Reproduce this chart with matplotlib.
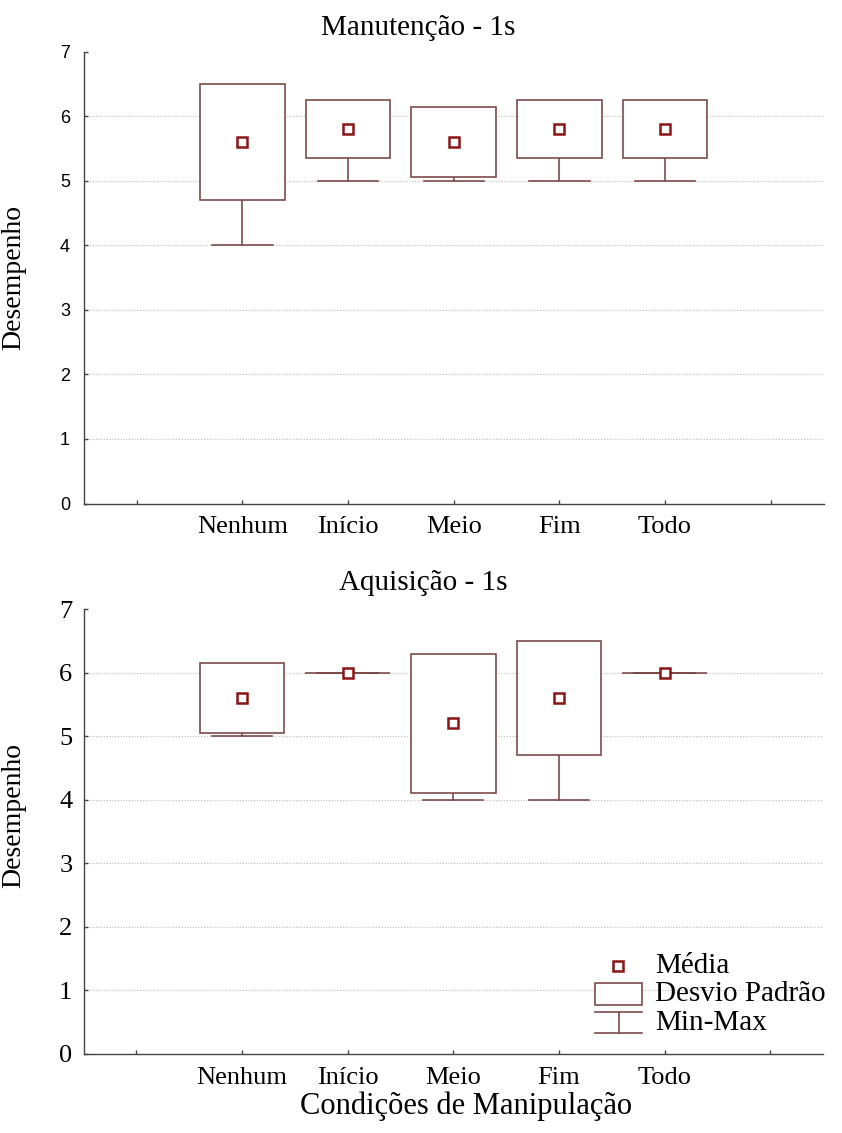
import matplotlib
matplotlib.use("Agg")
import matplotlib.pyplot as plt
from matplotlib.patches import Rectangle
from matplotlib.lines import Line2D

# ---- data ----
categories = ["Nenhum", "Início", "Meio", "Fim", "Todo"]
positions = [2, 3, 4, 5, 6]

man_mean = [5.6, 5.8, 5.6, 5.8, 5.8]
man_sd = [0.894, 0.447, 0.548, 0.447, 0.447]
man_min = [4, 5, 5, 5, 5]
man_max = [6, 6, 6, 6, 6]

aq_mean = [5.6, 6.0, 5.2, 5.6, 6.0]
aq_sd = [0.548, 0.0, 1.095, 0.894, 0.0]
aq_min = [5, 6, 4, 4, 6]
aq_max = [6, 6, 6, 6, 6]

yticks = [0, 1, 2, 3, 4, 5, 6, 7]

BOX_C = "#7d4a4a"
MEAN_C = "#8b1414"
SPINE_C = "#444444"
SERIF = ["Liberation Serif", "DejaVu Serif"]
SANS = ["Liberation Sans", "DejaVu Sans"]

fig = plt.figure(figsize=(8.42, 11.33), dpi=100)
ax1 = fig.add_axes([84 / 842, 1 - 503.5 / 1133, 739.5 / 842, 452 / 1133])
ax2 = fig.add_axes([83.5 / 842, 1 - 1054 / 1133, 739.5 / 842, 445 / 1133])

BW = 0.8
CW = 0.57


def draw(ax, means, sds, mins, maxs):
    for x, m, s, lo, hi in zip(positions, means, sds, mins, maxs):
        ax.plot([x, x], [lo, hi], color=BOX_C, lw=1.2, zorder=2)
        ax.plot([x - CW / 2, x + CW / 2], [lo, lo], color=BOX_C, lw=1.2, zorder=2)
        ax.plot([x - CW / 2, x + CW / 2], [hi, hi], color=BOX_C, lw=1.2, zorder=2)
        ax.add_patch(Rectangle((x - BW / 2, m - s), BW, 2 * s, facecolor="white",
                               edgecolor=BOX_C, lw=1.2, zorder=3))
    ax.plot(positions, means, linestyle="none", marker="s", markersize=6.5,
            markerfacecolor="white", markeredgecolor=MEAN_C, markeredgewidth=1.8, zorder=4)
    ax.set_xlim(0.5, 7.5)
    ax.set_ylim(0, 7)
    ax.set_xticks([1, 2, 3, 4, 5, 6, 7])
    ax.set_xticklabels([""] + categories + [""], fontfamily=SERIF, fontsize=19)
    ax.set_yticks(yticks)
    for sp in ["top", "right"]:
        ax.spines[sp].set_visible(False)
    for sp in ["left", "bottom"]:
        ax.spines[sp].set_color(SPINE_C)
        ax.spines[sp].set_linewidth(1.0)
    ax.tick_params(axis="both", direction="in", length=3, color=SPINE_C, width=1.0)
    ax.tick_params(axis="x", pad=9)
    ax.yaxis.grid(True, linestyle=(0, (1, 1.5)), color="#bdbdbd", lw=0.8)
    ax.set_axisbelow(True)
    gl = ax.get_ygridlines()
    gl[0].set_visible(False)
    gl[-1].set_visible(False)
    ax.set_ylabel("Desempenho", fontfamily=SERIF, fontsize=20)


draw(ax1, man_mean, man_sd, man_min, man_max)
draw(ax2, aq_mean, aq_sd, aq_min, aq_max)

ax1.set_yticklabels([str(v) for v in yticks], fontfamily=SANS, fontsize=13)
ax1.tick_params(axis="y", pad=10)
ax2.set_yticklabels([str(v) for v in yticks], fontfamily=SERIF, fontsize=19)
ax2.tick_params(axis="y", pad=8)

ax1.yaxis.set_label_coords(-0.078, 0.5)
ax2.yaxis.set_label_coords(-0.078, 0.535)

ax1.set_title("Manutenção - 1s", fontfamily=SERIF, fontsize=21, x=0.452, pad=12)
ax2.set_title("Aquisição - 1s", fontfamily=SERIF, fontsize=21, x=0.46, pad=14)

ax2.set_xlabel("Condições de Manipulação", fontfamily=SERIF, fontsize=22)
ax2.xaxis.set_label_coords(0.517, -0.117)
ax2.xaxis.label.set_va("center")

# ---- legend (drawn in axes coordinates) ----
T = ax2.transAxes
ax2.add_line(Line2D([0.723], [0.198], transform=T, linestyle="none", marker="s", markersize=6.5,
                    markerfacecolor="white", markeredgecolor=MEAN_C, markeredgewidth=1.8))
ax2.add_patch(Rectangle((0.692, 0.110), 0.063, 0.050, transform=T, facecolor="white",
                        edgecolor=BOX_C, lw=1.2, zorder=5))
ax2.add_line(Line2D([0.692, 0.755], [0.094, 0.094], transform=T, color=BOX_C, lw=1.2))
ax2.add_line(Line2D([0.692, 0.755], [0.047, 0.047], transform=T, color=BOX_C, lw=1.2))
ax2.add_line(Line2D([0.7235, 0.7235], [0.047, 0.094], transform=T, color=BOX_C, lw=1.2))
for ty, txt in [(0.198, "Média"), (0.135, "Desvio Padrão"), (0.070, "Min-Max")]:
    ax2.text(0.773, ty, txt, transform=T, fontfamily=SERIF, fontsize=21, va="center", ha="left")

fig.savefig("out.png", dpi=100)
